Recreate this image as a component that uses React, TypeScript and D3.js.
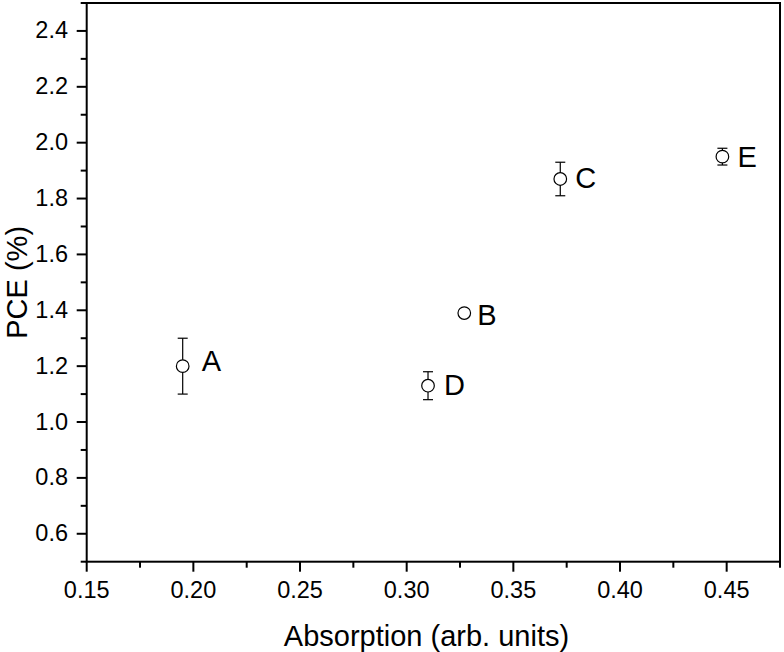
import React from "react";
import * as d3 from "d3";

const labels = ["A", "B", "C", "D", "E"];
const absorption = [0.195, 0.327, 0.372, 0.31, 0.448];
const pce = [1.2, 1.39, 1.87, 1.13, 1.95];
const pceErr = [0.1, 0.01, 0.06, 0.05, 0.03];
const labelDx = [19, 13, 15, 16, 15];
const labelDy = [-6, 1, -1, -1, 0];
const xTicks = [0.15, 0.2, 0.25, 0.3, 0.35, 0.4, 0.45];
const xMinor = [0.175, 0.225, 0.275, 0.325, 0.375, 0.425, 0.475];
const yTicks = [0.6, 0.8, 1.0, 1.2, 1.4, 1.6, 1.8, 2.0, 2.2, 2.4];
const yMinor = [0.5, 0.7, 0.9, 1.1, 1.3, 1.5, 1.7, 1.9, 2.1, 2.3, 2.5];

const W = 784;
const H = 652;
const L = 86.7;
const R = 780;
const T = 3;
const B = 561.7;
const font = "'Liberation Sans', Arial, sans-serif";

export default function App() {
  const x = d3.scaleLinear().domain([0.15, 0.475]).range([L, R]);
  const y = d3.scaleLinear().domain([0.5, 2.5]).range([B, T]);
  const cap = 5;
  return (
    <svg
      width={W}
      height={H}
      style={{ position: "absolute", left: 0, top: 0, background: "#fff" }}
      fontFamily={font}
    >
      <rect x={0} y={0} width={W} height={H} fill="#fff" />
      {/* frame */}
      <rect x={L} y={T} width={R - L} height={B - T} fill="none" stroke="#000" strokeWidth={2} />
      {/* x ticks */}
      {xTicks.map((t) => (
        <g key={"xt" + t}>
          <line x1={x(t)} x2={x(t)} y1={B} y2={B + 10} stroke="#000" strokeWidth={2} />
          <text x={x(t)} y={598} fontSize={23.5} textAnchor="middle" fill="#000">
            {d3.format(".2f")(t)}
          </text>
        </g>
      ))}
      {xMinor.map((t) => (
        <line key={"xm" + t} x1={x(t)} x2={x(t)} y1={B} y2={B + 6} stroke="#000" strokeWidth={2} />
      ))}
      {/* y ticks */}
      {yTicks.map((t) => (
        <g key={"yt" + t}>
          <line x1={L - 10} x2={L} y1={y(t)} y2={y(t)} stroke="#000" strokeWidth={2} />
          <text x={68} y={y(t)} dy="0.32em" fontSize={23.5} textAnchor="end" fill="#000">
            {d3.format(".1f")(t)}
          </text>
        </g>
      ))}
      {yMinor.map((t) => (
        <line key={"ym" + t} x1={L - 6} x2={L} y1={y(t)} y2={y(t)} stroke="#000" strokeWidth={2} />
      ))}
      {/* axis titles */}
      <text x={426.5} y={646} fontSize={29} textAnchor="middle" fill="#000">
        Absorption (arb. units)
      </text>
      <text
        transform={`translate(27,${(T + B) / 2}) rotate(-90)`}
        fontSize={29}
        textAnchor="middle"
        fill="#000"
      >
        PCE (%)
      </text>
      {/* points */}
      {labels.map((lab, i) => {
        const cx = x(absorption[i]);
        const cy = y(pce[i]);
        const y1 = y(pce[i] + pceErr[i]);
        const y2 = y(pce[i] - pceErr[i]);
        return (
          <g key={lab}>
            <line x1={cx} x2={cx} y1={y1} y2={y2} stroke="#000" strokeWidth={1.2} />
            <line x1={cx - cap} x2={cx + cap} y1={y1} y2={y1} stroke="#000" strokeWidth={1.2} />
            <line x1={cx - cap} x2={cx + cap} y1={y2} y2={y2} stroke="#000" strokeWidth={1.2} />
            <circle cx={cx} cy={cy} r={6.3} fill="#fff" stroke="#000" strokeWidth={1.2} />
            <text
              x={cx + labelDx[i]}
              y={cy + labelDy[i]}
              dy="0.36em"
              fontSize={29}
              fill="#000"
            >
              {lab}
            </text>
          </g>
        );
      })}
    </svg>
  );
}
